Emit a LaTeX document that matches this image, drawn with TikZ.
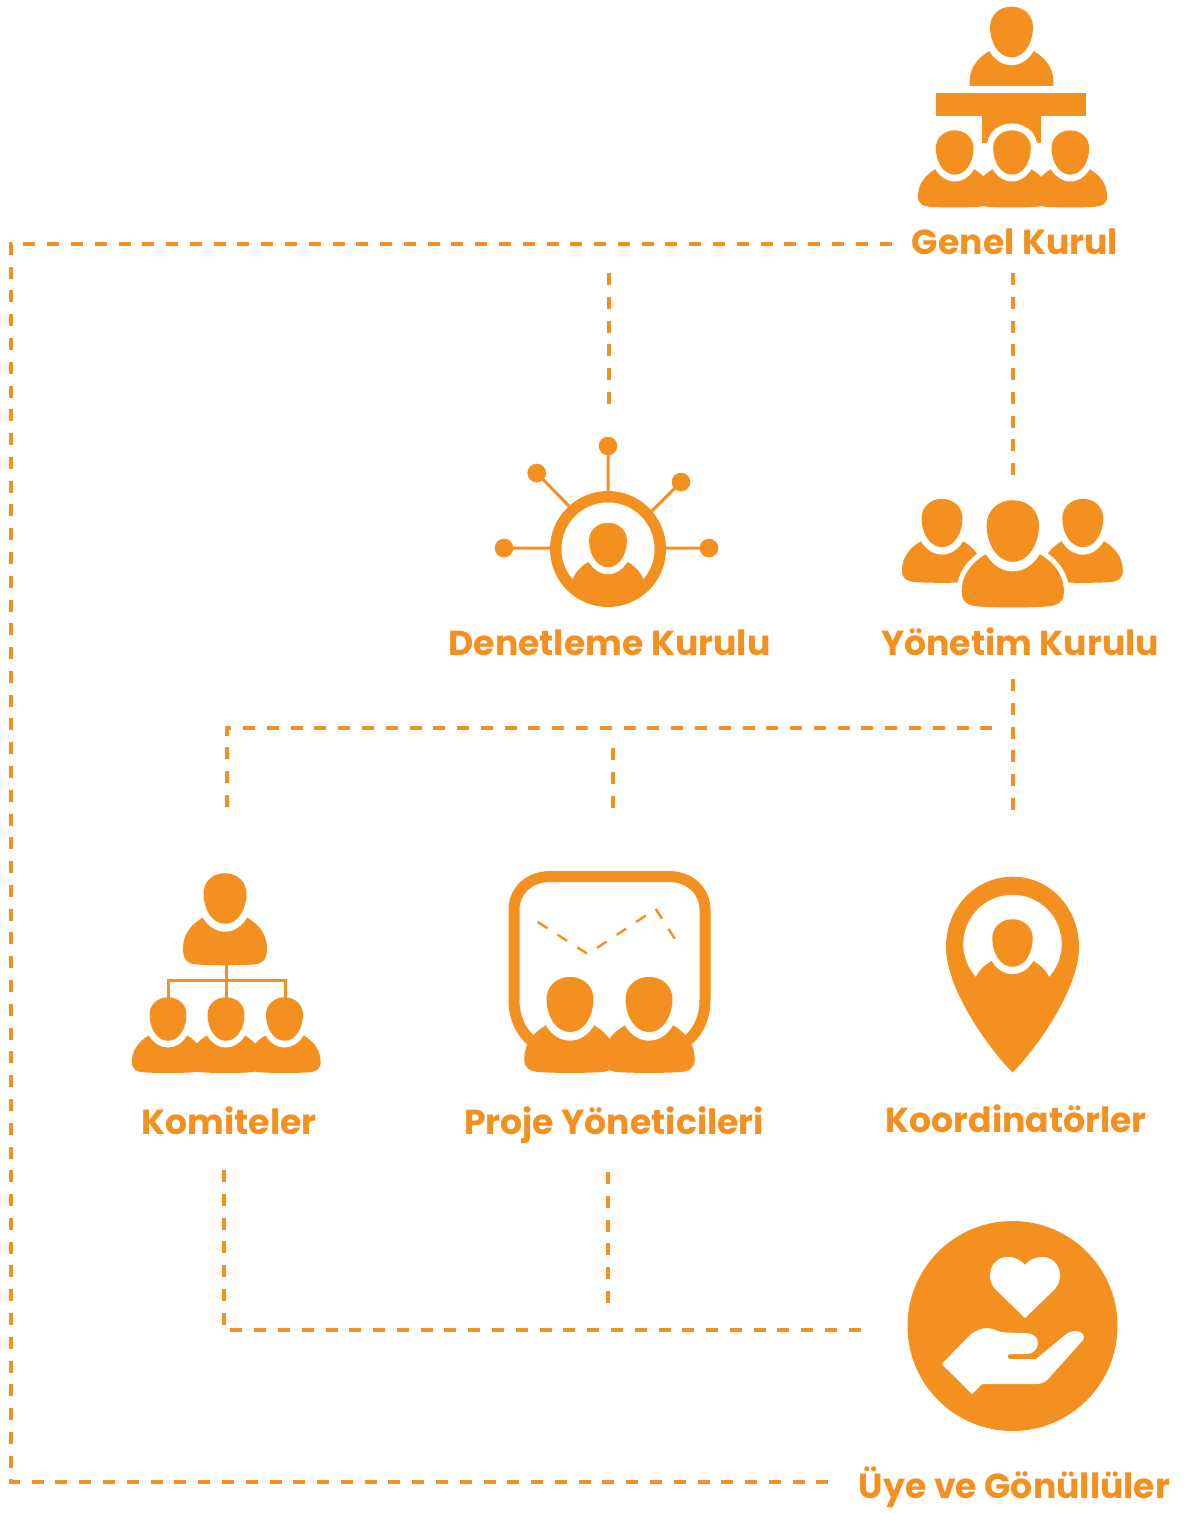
\documentclass[tikz,border=0pt]{standalone}
\usepackage{fontspec}
\setmainfont{Poppins}[UprightFont=*-Bold]
\definecolor{org}{HTML}{F39020}
\tikzset{
 x=1pt,y=-1pt,
 dashline/.style={draw=org,line width=4pt,dash pattern=on 12pt off 11.78pt},
 lab/.style={text=org,font=\fontsize{34.7}{40}\selectfont,inner sep=0pt,anchor=center},
}
\def\bb{62}
\newcommand{\eggpath}{(0,-25.3) .. controls (-12.5,-25.3) and (-21.5,-16.5) .. (-21.5,-5) .. controls (-21.5,10.5) and (-13,25.3) .. (0,25.3) .. controls (13,25.3) and (21.5,10.5) .. (21.5,-5) .. controls (21.5,-16.5) and (12.5,-25.3) .. (0,-25.3) -- cycle}
\newcommand{\bodypath}{(-22,19) -- (22,19) .. controls (34,26) and (42,36) .. (42,50) .. controls (42,\bb-3) and (36,\bb-.5) .. (28,\bb) .. controls (14,\bb+1) and (-14,\bb+1) .. (-28,\bb) .. controls (-36,\bb-.5) and (-42,\bb-3) .. (-42,50) .. controls (-42,36) and (-34,26) .. (-22,19) -- cycle}
\newcommand{\phead}[3]{\begin{scope}[shift={(#1,#2)},scale=#3]\fill[org] \eggpath;\end{scope}}
\newcommand{\phalo}[3]{\begin{scope}[shift={(#1,#2)},scale=#3]\begin{scope}[xscale=1.34,yscale=1.31]\fill[white] \eggpath;\end{scope}\end{scope}}
\newcommand{\pbody}[3]{\begin{scope}[shift={(#1,#2)},scale=#3]\fill[org] \bodypath;\end{scope}}
\newcommand{\pedge}[3]{\begin{scope}[shift={(#1,#2)},scale=#3]\draw[white,line width=10pt,fill=white] \bodypath;\end{scope}}
\newcommand{\person}[3]{\pbody{#1}{#2}{#3}\phalo{#1}{#2}{#3}\phead{#1}{#2}{#3}}
\begin{document}
\begin{tikzpicture}
\useasboundingbox (0,0) rectangle (1184,1513);
% connectors
\coordinate (a1) at (891.5,244);\coordinate (a2) at (10.5,244);\coordinate (a3) at (10.5,1482);\coordinate (a4) at (830.5,1482);
\draw[dashline] (a1)--(a2)--(a3)--(a4);
\coordinate (b1) at (609,273);\coordinate (b2) at (609,404.5);\draw[dashline] (b1)--(b2);
\coordinate (c1) at (1012.7,273);\coordinate (c2) at (1012.7,475.5);\draw[dashline] (c1)--(c2);
\coordinate (d1) at (1012.7,679);\coordinate (d2) at (1012.7,810);\draw[dashline] (d1)--(d2);
\coordinate (e1) at (992.3,728);\coordinate (e2) at (227,728);\coordinate (e3) at (227,808);\draw[dashline] (e1)--(e2)--(e3);
\coordinate (f1) at (613.3,748);\coordinate (f2) at (613.3,808);\draw[dashline] (f1)--(f2);
\coordinate (g1) at (224,1170);\coordinate (g2) at (224,1330);\coordinate (g3) at (862,1330);\draw[dashline] (g1)--(g2)--(g3);
\coordinate (h1) at (608,1172);\coordinate (h2) at (608,1304);\draw[dashline] (h1)--(h2);
% Genel Kurul
\begin{scope}
\clip (900,0) rectangle (1120,85);
\person{1011.5}{32}{1}
\end{scope}
\fill[org] (936,93) rectangle (1086,116);
\fill[org] (982,116) rectangle (1041,143);
\pbody{954.7}{152.5}{.875}\pbody{1012}{152.5}{.875}\pbody{1070.3}{152.5}{.875}
\phalo{954.7}{152.5}{.875}\phalo{1012}{152.5}{.875}\phalo{1070.3}{152.5}{.875}
\phead{954.7}{152.5}{.875}\phead{1012}{152.5}{.875}\phead{1070.3}{152.5}{.875}
% Denetleme
\draw[org,line width=3pt] (608,446)--(608,495) (536.7,473)--(569,506) (681,482)--(652,511) (504,548)--(552,548) (664,548)--(709,548);
\fill[org] (608,446) circle[radius=9.3] (536.7,473) circle[radius=9.3] (681,482) circle[radius=9.3] (504,548) circle[radius=9.3] (709,548) circle[radius=9.3];
\fill[org] (608,549) circle[radius=58];
\fill[white] (608,549) circle[radius=46.5];
\begin{scope}
\clip (608,549) circle[radius=47];
\pbody{608}{545}{.88}
\fill[org] (560,582) rectangle (656,610);
\phalo{608}{545}{.88}
\phead{608}{545}{.88}
\end{scope}
% Yonetim
\person{942}{523}{.953}\person{1082.8}{523}{.953}
\pedge{1012.8}{531}{1.217}
\person{1012.8}{531}{1.217}
% Komiteler
\def\bb{66}\person{225}{898.5}{1}\def\bb{62}
\pbody{168}{1019}{.86}\pbody{226}{1019}{.86}\pbody{284.5}{1019}{.86}
\phalo{168}{1019}{.86}\phalo{226}{1019}{.86}\phalo{284.5}{1019}{.86}
\draw[org,line width=3pt] (226,960)--(226,1000) (168,1000)--(168,980)--(285,980)--(285,1000);
\phead{168}{1019}{.86}\phead{226}{1019}{.86}\phead{284.5}{1019}{.86}
% Proje
\draw[org,line width=11pt] (514,910) .. controls (514,890) and (530,876.5) .. (550,876.5) -- (669,876.5) .. controls (689,876.5) and (705,890) .. (705,910) -- (705,1000) .. controls (705,1030) and (685,1052) .. (655,1052) -- (564,1052) .. controls (534,1052) and (514,1030) .. (514,1000) -- cycle;
\draw[org,line width=2.4pt,dash pattern=on 11.5pt off 12pt] (537.7,922)--(587.7,954)--(655.7,909)--(675,939);
\pbody{570}{1004.5}{1.09}\pbody{649}{1004.5}{1.09}
\phalo{570}{1004.5}{1.09}\phalo{649}{1004.5}{1.09}
\phead{570}{1004.5}{1.09}\phead{649}{1004.5}{1.09}
% Koordinator
\fill[org] (1012.7,876.7) .. controls (975,876.7) and (946,908) .. (946,947) .. controls (946,990) and (990,1050) .. (1012.7,1072.5) .. controls (1035,1050) and (1079,990) .. (1079,947) .. controls (1079,908) and (1050,876.7) .. (1012.7,876.7) -- cycle;
\fill[white] (1012.5,944) circle[radius=49.2];
\begin{scope}
\clip (1012.5,944) circle[radius=49.7];
\pbody{1012.5}{943}{.94}
\fill[org] (960,977) rectangle (1066,1000);
\phalo{1012.5}{943}{.94}
\phead{1012.5}{943}{.94}
\end{scope}
% Uye
\fill[org] (1012.5,1326) circle[radius=105];
\fill[white] (1025,1318) -- (995,1289) .. controls (985,1278) and (990,1257) .. (1008,1257) .. controls (1016,1257) and (1022,1261) .. (1025,1265) .. controls (1028,1261) and (1034,1257) .. (1042,1257) .. controls (1060,1257) and (1065,1278) .. (1055,1289) -- cycle;
\fill[white] (941.7,1364) -- (968,1337) .. controls (975,1330) and (982,1328) .. (988,1328) .. controls (995,1329) and (998,1332) .. (1005,1332.5) -- (1025,1333) .. controls (1034,1333) and (1038,1338) .. (1038,1343) .. controls (1038,1349) and (1033,1354) .. (1027,1354) -- (1010,1354) .. controls (1007,1354) and (1007,1359) .. (1010,1359) -- (1036,1359) -- (1065,1335) .. controls (1070,1331) and (1074,1331) .. (1077,1331) .. controls (1082,1332) and (1086,1336) .. (1083,1340) -- (1050,1377) .. controls (1046,1382) and (1042,1384) .. (1036,1384) -- (982,1384) -- (972,1394) -- cycle;
% labels
\node[lab] (genel) at (1015,242) {Genel Kurul};
\node[lab] (den) at (609.5,643) {Denetleme Kurulu};
\node[lab] (yon) at (1020,642) {Yönetim Kurulu};
\node[lab] (kom) at (229,1120.5) {Komiteler};
\node[lab] (pro) at (614,1125) {Proje Yöneticileri};
\node[lab] (koo) at (1016,1119) {Koordinatörler};
\node[lab] (uye) at (1014.5,1487.5) {Üye ve Gönüllüler};
\end{tikzpicture}
\end{document}
